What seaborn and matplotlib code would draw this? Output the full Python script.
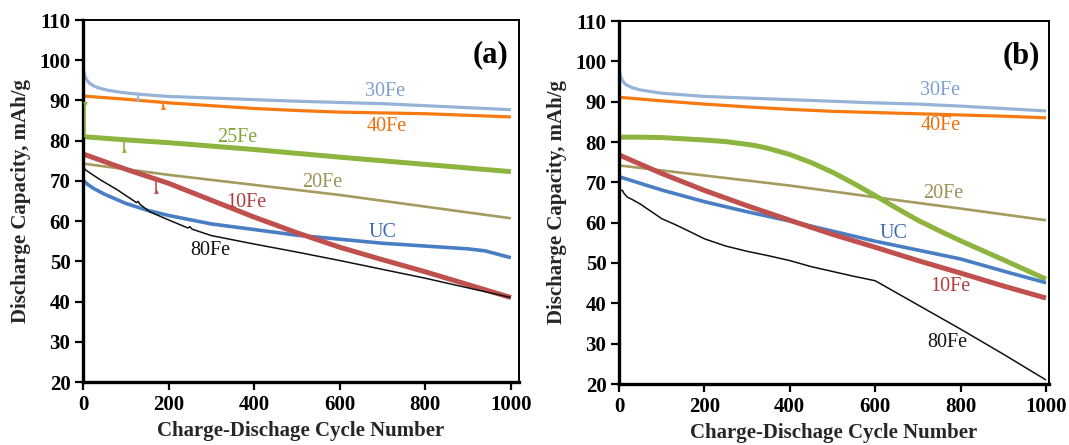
import numpy as np
import pandas as pd
import matplotlib
matplotlib.use("Agg")
import matplotlib.pyplot as plt
import seaborn as sns

# ---------------- data: panel (a) ----------------
a_30fe_x = [0, 3, 8, 15, 25, 40, 60, 90, 125, 160, 200, 300, 400, 500, 600, 700, 800, 900, 1000]
a_30fe_y = [98.3, 96.5, 95.2, 94.3, 93.6, 93.0, 92.5, 92.0, 91.6, 91.3, 91.0, 90.6, 90.2, 89.8, 89.5, 89.2, 88.7, 88.2, 87.7]

a_40fe_x = [0, 100, 200, 300, 400, 500, 600, 700, 800, 900, 1000]
a_40fe_y = [91.1, 90.3, 89.4, 88.7, 88.0, 87.5, 87.1, 86.9, 86.7, 86.3, 85.9]

a_25fe_x = [0, 100, 200, 400, 600, 800, 1000]
a_25fe_y = [81.0, 80.2, 79.5, 77.8, 75.9, 74.1, 72.3]

a_20fe_x = [0, 200, 400, 600, 800, 1000]
a_20fe_y = [74.3, 71.5, 69.0, 66.5, 63.6, 60.7]

a_10fe_x = [0, 50, 100, 200, 300, 400, 500, 600, 700, 800, 900, 1000]
a_10fe_y = [76.7, 74.8, 72.9, 69.4, 65.2, 61.0, 57.1, 53.5, 50.4, 47.4, 44.2, 41.0]

a_uc_x = [0, 10, 25, 50, 100, 150, 200, 300, 400, 500, 600, 700, 800, 900, 940, 1000]
a_uc_y = [70.2, 69.2, 68.1, 66.7, 64.4, 62.7, 61.4, 59.3, 57.9, 56.5, 55.5, 54.5, 53.8, 53.1, 52.6, 50.9]

a_80fe_x = [0, 5, 16, 40, 80, 125, 129, 133, 156, 200, 245, 250, 255, 300, 400, 500, 600, 700, 800, 900, 1000]
a_80fe_y = [74.2, 72.8, 72.0, 70.3, 67.8, 64.6, 64.9, 64.2, 62.3, 60.3, 58.3, 58.6, 58.0, 56.4, 54.3, 52.3, 50.2, 48.0, 45.8, 43.4, 41.0]

# isolated measurement glitches in panel (a): cycle, curve value, glitch value
a_glitch_name = ["30Fe", "40Fe", "25Fe", "25Fe", "10Fe"]
a_glitch_x = [128, 187, 4, 95, 170]
a_glitch_base = [91.5, 89.5, 80.9, 80.2, 70.0]
a_glitch_tip = [90.6, 88.4, 89.0, 77.6, 67.4]

# ---------------- data: panel (b) ----------------
b_30fe_x = [0, 3, 8, 15, 30, 50, 100, 200, 300, 400, 500, 600, 700, 800, 900, 1000]
b_30fe_y = [98.5, 96.5, 95.2, 94.3, 93.5, 92.9, 92.1, 91.3, 90.9, 90.5, 90.1, 89.7, 89.4, 88.9, 88.3, 87.7]

b_40fe_x = [0, 100, 200, 300, 400, 500, 600, 700, 800, 900, 1000]
b_40fe_y = [91.1, 90.2, 89.4, 88.7, 88.1, 87.6, 87.3, 87.0, 86.7, 86.4, 86.0]

b_25fe_x = [0, 50, 100, 150, 200, 250, 280, 320, 350, 400, 450, 500, 550, 600, 650, 700, 750, 800, 900, 1000]
b_25fe_y = [81.2, 81.2, 81.1, 80.8, 80.5, 80.1, 79.7, 79.1, 78.4, 76.9, 74.9, 72.5, 69.7, 66.7, 63.6, 60.6, 58.0, 55.5, 50.8, 46.0]

b_20fe_x = [0, 200, 400, 600, 800, 1000]
b_20fe_y = [74.2, 71.7, 69.2, 66.3, 63.5, 60.6]

b_10fe_x = [0, 100, 200, 300, 400, 500, 600, 700, 800, 900, 1000]
b_10fe_y = [76.8, 72.2, 68.0, 64.2, 60.6, 57.1, 53.9, 50.6, 47.5, 44.3, 41.3]

b_uc_x = [0, 100, 200, 300, 400, 500, 600, 700, 800, 900, 1000]
b_uc_y = [71.4, 68.1, 65.2, 62.7, 60.4, 57.9, 55.4, 53.2, 51.0, 48.0, 45.1]

b_80fe_x = [0, 8, 12, 20, 30, 50, 75, 100, 130, 150, 200, 250, 300, 350, 400, 450, 500, 550, 600, 700, 800, 900, 1000]
b_80fe_y = [68.0, 68.0, 67.2, 66.3, 65.8, 64.6, 62.8, 61.0, 59.6, 58.6, 56.0, 54.2, 52.9, 51.8, 50.6, 49.1, 47.9, 46.7, 45.6, 39.6, 33.6, 27.4, 21.0]

x_ticks = [0, 200, 400, 600, 800, 1000]
y_ticks = [20, 30, 40, 50, 60, 70, 80, 90, 100, 110]
x_label = "Charge-Dischage Cycle Number"
y_label = "Discharge Capacity, mAh/g"

# line styles per sample: (line colour, line width in pt, label colour)
styles = {
    "30Fe": ("#95B3D7", 2.3, "#7F9FD3"),
    "40Fe": ("#F7790F", 2.3, "#F26D0A"),
    "25Fe": ("#8DB43E", 3.6, "#7EA83A"),
    "20Fe": ("#A59B5E", 1.9, "#9C9157"),
    "10Fe": ("#C0504D", 3.6, "#B33A3A"),
    "UC":   ("#4A7EC4", 2.6, "#3D6BB3"),
    "80Fe": ("#111111", 1.1, "#111111"),
}
draw_order = ["20Fe", "30Fe", "40Fe", "25Fe", "UC", "10Fe", "80Fe"]

panel_a = {
    "30Fe": (a_30fe_x, a_30fe_y), "40Fe": (a_40fe_x, a_40fe_y),
    "25Fe": (a_25fe_x, a_25fe_y), "20Fe": (a_20fe_x, a_20fe_y),
    "10Fe": (a_10fe_x, a_10fe_y), "UC": (a_uc_x, a_uc_y),
    "80Fe": (a_80fe_x, a_80fe_y),
}
panel_b = {
    "30Fe": (b_30fe_x, b_30fe_y), "40Fe": (b_40fe_x, b_40fe_y),
    "25Fe": (b_25fe_x, b_25fe_y), "20Fe": (b_20fe_x, b_20fe_y),
    "10Fe": (b_10fe_x, b_10fe_y), "UC": (b_uc_x, b_uc_y),
    "80Fe": (b_80fe_x, b_80fe_y),
}

# curve name annotations (data coordinates)
labels_a = {"30Fe": (706, 92.3), "40Fe": (710, 83.6), "25Fe": (361, 80.8),
            "20Fe": (560, 69.5), "10Fe": (381, 64.7), "UC": (699, 57.2),
            "80Fe": (298, 52.6)}
labels_b = {"30Fe": (752, 92.8), "40Fe": (754, 84.0), "20Fe": (760, 67.2),
            "UC": (643, 57.4), "10Fe": (776, 44.1), "80Fe": (770, 30.2)}

sns.set_theme(style="ticks")
plt.rcParams["font.family"] = ["Liberation Serif", "DejaVu Serif"]

fig = plt.figure(figsize=(10.69, 4.45), dpi=100)
ax_a = fig.add_axes([83 / 1069, 1 - 382 / 445, 436 / 1069, 362 / 445])
ax_b = fig.add_axes([619 / 1069, 1 - 384 / 445, 430 / 1069, 363 / 445])


def draw_panel(ax, data, labels, tag, xmax):
    for name in draw_order:
        xs, ys = data[name]
        color, lw, _ = styles[name]
        df = pd.DataFrame({"cycle": xs, "capacity": ys})
        sns.lineplot(data=df, x="cycle", y="capacity", ax=ax, color=color,
                     linewidth=lw, sort=False, estimator=None,
                     solid_capstyle="butt", solid_joinstyle="round")
    for name, (lx, ly) in labels.items():
        ax.text(lx, ly, name, color=styles[name][2], fontsize=14.5,
                ha="center", va="center", fontweight="normal")
    ax.text(0.935, 0.905, tag, transform=ax.transAxes, fontsize=22,
            fontweight="bold", ha="center", va="center", color="black")
    ax.set_xlim(0, xmax)
    ax.set_ylim(20, 110)
    ax.set_xticks(x_ticks)
    ax.set_yticks(y_ticks)
    ax.set_xlabel(x_label, fontsize=15, fontweight="bold", labelpad=5)
    ax.set_ylabel(y_label, fontsize=15, fontweight="bold", labelpad=6)
    ax.tick_params(axis="both", direction="out", length=6, width=1.6,
                   labelsize=15, pad=3, colors="black")
    for lab in ax.get_xticklabels() + ax.get_yticklabels():
        lab.set_fontweight("bold")
    for side in ("left", "bottom"):
        ax.spines[side].set_linewidth(2.4)
        ax.spines[side].set_color("black")
    for side in ("top", "right"):
        ax.spines[side].set_visible(True)
        ax.spines[side].set_linewidth(1.4)
        ax.spines[side].set_color("black")
    ax.grid(False)


draw_panel(ax_a, panel_a, labels_a, "(a)", 1019)
draw_panel(ax_b, panel_b, labels_b, "(b)", 1007)

# thin glitch ticks on panel (a)
for name, gx, gb, gt in zip(a_glitch_name, a_glitch_x, a_glitch_base, a_glitch_tip):
    color = styles[name][0]
    ax_a.plot([gx, gx], [gb, gt], color=color, linewidth=1.2, zorder=3)
    marker = "^" if gt < gb else "v"
    ax_a.plot([gx], [gt], marker=marker, color=color, markersize=3.5,
              markeredgewidth=0, zorder=3)

fig.savefig("out.png", dpi=100)
